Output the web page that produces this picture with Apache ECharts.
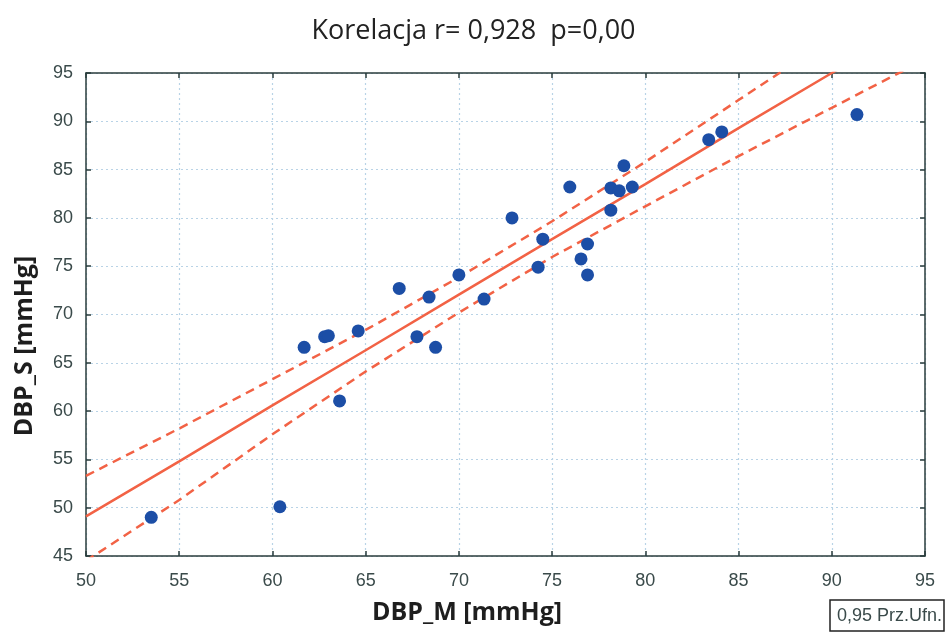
<!DOCTYPE html>
<html><head><meta charset="utf-8">
<script src="https://cdn.jsdelivr.net/npm/echarts@6/dist/echarts.min.js"></script>
<style>html,body{margin:0;padding:0;background:#fff}#c{width:947px;height:634px}</style>
</head><body><div id="c"></div>
<script>
// Measured points (DBP_M, DBP_S)
const pointsX = [53.5, 60.4, 61.7, 62.8, 63.0, 63.6, 64.6, 66.8, 67.75, 68.4, 68.75, 70.0, 71.35, 72.85, 74.25, 74.5, 75.95, 76.55, 76.9, 76.9, 78.15, 78.15, 78.6, 78.85, 79.3, 83.4, 84.1, 91.35];
const pointsY = [49.0, 50.1, 66.6, 67.7, 67.8, 61.05, 68.3, 72.7, 67.7, 71.8, 66.6, 74.1, 71.6, 80.0, 74.9, 77.8, 83.2, 75.75, 77.3, 74.1, 80.8, 83.1, 82.8, 85.4, 83.2, 88.1, 88.9, 90.7];
// Regression line and 0.95 confidence band, read at these x positions
const lineX = [50, 55, 60, 65, 70, 75, 80, 85, 90, 95];
const fitY = [49.1, 54.8, 60.6, 66.3, 72.05, 77.8, 83.5, 89.3, 95.0, 100.7];
const upperY = [53.3, 58.2, 63.3, 68.4, 73.85, 79.65, 85.8, 92.2, 98.6, 105.0];
const lowerY = [44.5, 50.8, 57.6, 64.1, 70.2, 75.95, 81.2, 86.4, 91.4, 96.4];
const titleText = 'Korelacja r= 0,928  p=0,00';
const xName = 'DBP_M [mmHg]';
const yName = 'DBP_S [mmHg]';
const legendText = '0,95 Prz.Ufn.';

const pts = pointsX.map((x, i) => [x, pointsY[i]]);
const mk = arr => lineX.map((x, i) => [x, arr[i]]);

const frame = '#2a3c3c';
const red = '#f26245';
const narrow = "'Liberation Sans Narrow', 'Liberation Sans', sans-serif";
const lblFont = {fontFamily: narrow, fontSize: 18, color: '#3a4a4a'};
function axisCommon(pos, show, min) {
  return {
    type: 'value', min: min, max: 95, interval: 5, position: pos,
    axisLine: {show: true, onZero: false, lineStyle: {color: frame, width: 1.5}},
    axisTick: {show: true, inside: true, length: 5, lineStyle: {color: frame, width: 1.5}},
    axisLabel: Object.assign({show: show, margin: pos === 'left' ? 13 : 16}, lblFont),
    splitLine: {show: show, lineStyle: {color: '#b9d3e6', type: [2, 3], width: 1.2}}
  };
}
const chart = echarts.init(document.getElementById('c'));
chart.setOption({
  animation: false,
  backgroundColor: '#fff',
  title: {text: titleText, left: 'center', top: 13,
    textStyle: {fontFamily: 'Open Sans', fontWeight: 'normal', fontSize: 27, color: '#222'}},
  grid: {left: 86, right: 22, top: 73, bottom: 78},
  xAxis: [axisCommon('bottom', true, 50), axisCommon('top', false, 50)],
  yAxis: [axisCommon('left', true, 45), axisCommon('right', false, 45)],
  series: [
    {type: 'line', data: mk(fitY), showSymbol: false, clip: true,
      lineStyle: {color: red, width: 2.5}, z: 3},
    {type: 'line', data: mk(upperY), showSymbol: false, clip: true,
      lineStyle: {color: red, width: 2.5, type: [9, 6]}, z: 3},
    {type: 'line', data: mk(lowerY), showSymbol: false, clip: true,
      lineStyle: {color: red, width: 2.5, type: [9, 6]}, z: 3},
    {type: 'scatter', data: pts, symbolSize: 13, itemStyle: {color: '#1c4ea6', opacity: 1}, z: 5}
  ],
  graphic: [
    {type: 'text', x: 467, y: 613, style: {text: xName, fontFamily: 'Open Sans', fontWeight: 'bold', fontSize: 25,
      fill: '#1e1e1e', align: 'center', verticalAlign: 'middle'}},
    {type: 'text', x: 25, y: 346, rotation: Math.PI / 2, style: {text: yName, fontFamily: 'Open Sans', fontWeight: 'bold', fontSize: 25,
      fill: '#1e1e1e', align: 'center', verticalAlign: 'middle'}},
    {type: 'rect', x: 830, y: 600, shape: {width: 114, height: 31},
      style: {fill: '#fff', stroke: '#222', lineWidth: 1.5}},
    {type: 'text', x: 837, y: 616, style: {text: legendText, fontFamily: narrow, fontSize: 18, fill: '#3a4a4a', verticalAlign: 'middle'}}
  ]
});
</script></body></html>
